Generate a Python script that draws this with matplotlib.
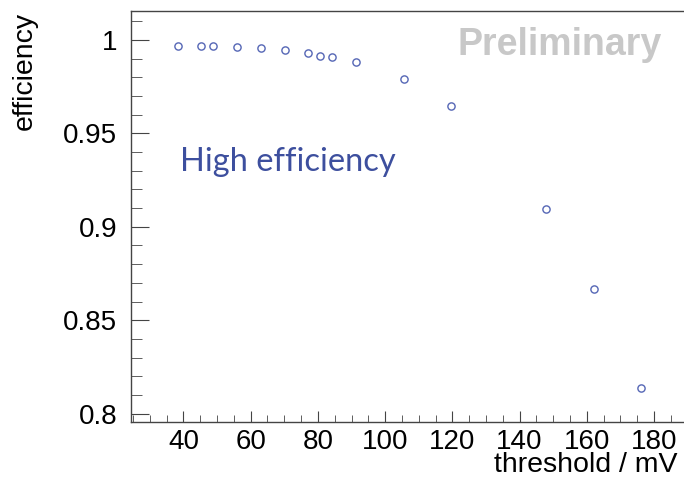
import matplotlib
matplotlib.use('Agg')
import matplotlib.pyplot as plt
from matplotlib.ticker import MultipleLocator

# threshold scan
threshold = [38.3, 45.3, 48.8, 55.9, 63.0, 70.1, 77.2, 80.7, 84.2, 91.3, 105.5, 119.6, 147.9, 162.1, 176.2]
efficiency = [0.9968, 0.9970, 0.9968, 0.9964, 0.9955, 0.9945, 0.9929, 0.9913, 0.9909, 0.9880,
              0.9793, 0.9647, 0.9097, 0.8669, 0.8137]

plt.rcParams['font.family'] = ['Liberation Sans', 'DejaVu Sans']

fig = plt.figure(figsize=(6.84, 4.79), dpi=100)
ax = fig.add_axes([131/684, 1 - 422/479, 1 - 131/684, (422 - 11)/479])

ax.plot(threshold, efficiency, 'o', mfc='none', mec='#5566b5', ms=5.2, mew=1.0)

ax.set_xlim(24.4, 188.9)
ax.set_ylim(0.7955, 1.0155)

ax.xaxis.set_minor_locator(MultipleLocator(5))
ax.yaxis.set_minor_locator(MultipleLocator(0.01))
ax.set_yticks([0.8, 0.85, 0.9, 0.95, 1.0])
ax.set_yticklabels(['0.8', '0.85', '0.9', '0.95', '1'])
ax.set_xticks([40, 60, 80, 100, 120, 140, 160, 180])

ax.tick_params(axis='both', which='both', direction='in', top=False, right=False,
               labelsize=20, colors='#444444', labelcolor='black')
ax.tick_params(axis='y', which='major', length=13, pad=10)
ax.tick_params(axis='y', which='minor', length=8)
ax.tick_params(axis='x', which='major', length=8, pad=5)
ax.tick_params(axis='x', which='minor', length=5)

for s in ax.spines.values():
    s.set_color('#444444')
    s.set_linewidth(1.0)
ax.spines['right'].set_visible(False)

fig.text(678/684, 1 - 472/479, 'threshold / mV', ha='right', va='baseline', fontsize=20.5)
fig.text(25/684, 1 - 12/479, 'efficiency', ha='center', va='top', rotation=90, fontsize=20.5)

fig.text(180/684, 1 - 162/479, 'High efficiency', fontsize=23.5, color='#3d4f9e',
         family=['Lato', 'DejaVu Sans'], va='center', ha='left')
fig.text(662/684, 1 - 45/479, 'Preliminary', ha='right', va='center', fontsize=27,
         fontweight='bold', color='#c8c8c8')

fig.savefig('out.png', dpi=100)
